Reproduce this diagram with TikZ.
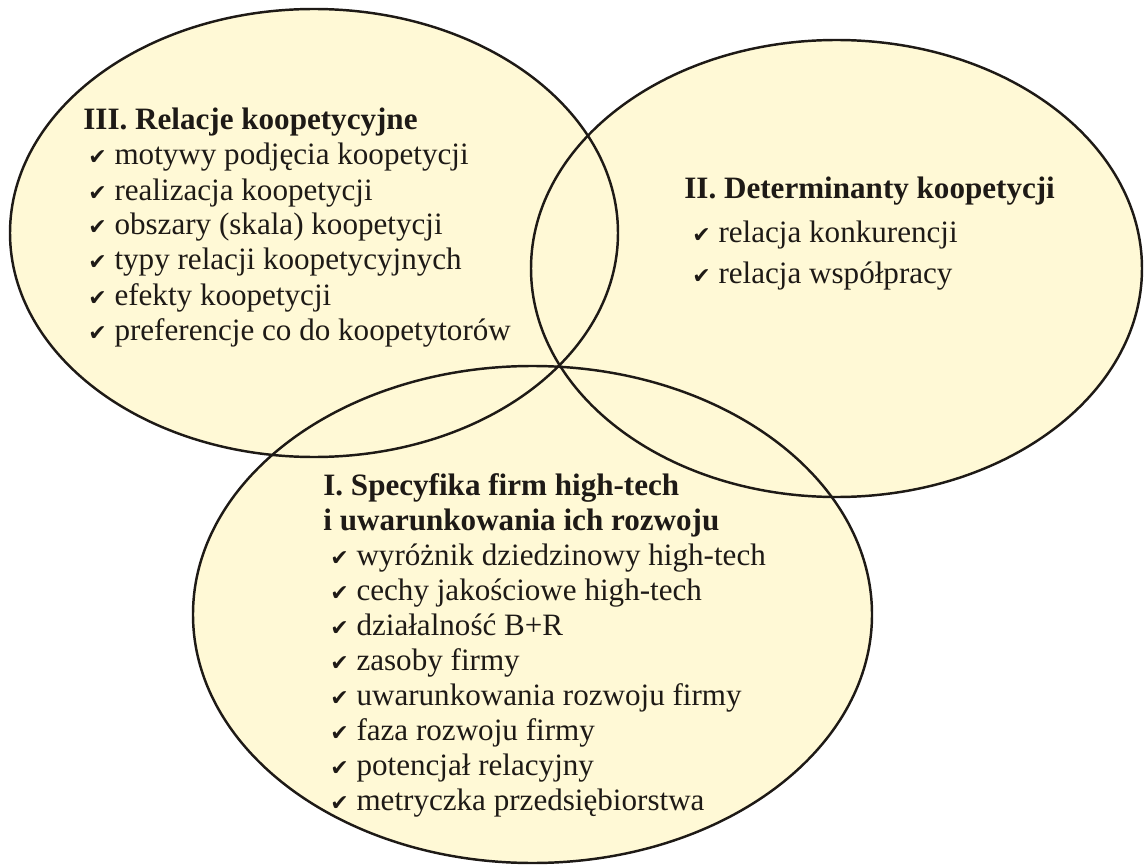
\documentclass[tikz,border=0pt]{standalone}
\usepackage{fontspec}
\setmainfont{Liberation Serif}
\newfontfamily\symfont{DejaVu Sans}
\usetikzlibrary{positioning}
\definecolor{vennCream}{HTML}{FFF9D6}
\definecolor{inkDark}{HTML}{1E1A16}
\newcommand{\chk}{{\symfont\fontsize{12.5}{10}\selectfont ✔}\hspace{0.25em}}

\begin{document}
\begin{tikzpicture}[
    x=0.02cm, y=-0.02cm,
    venn/.style={draw=inkDark, line width=1.4pt},
    head/.style={anchor=base west, inner sep=0pt, text=inkDark,
                 font=\fontsize{17.7}{20}\selectfont\bfseries},
    item/.style={anchor=base west, inner sep=0pt, text=inkDark,
                 font=\fontsize{17.7}{20}\selectfont},
]
    \useasboundingbox (0,0) rectangle (1147,865);
    % centres of the three sets
    \coordinate (cIII) at (314,233);
    \coordinate (cII) at (836.5,268.5);
    \coordinate (cI) at (532.5,614.5);
    % fills first, so every outline stays visible
    \fill[vennCream] (cIII) ellipse [x radius=304, y radius=224];
    \fill[vennCream] (cII) ellipse [x radius=305.5, y radius=228.5];
    \fill[vennCream] (cI) ellipse [x radius=339.5, y radius=248.5];
    \draw[venn] (cIII) ellipse [x radius=304, y radius=224];
    \draw[venn] (cII) ellipse [x radius=305.5, y radius=228.5];
    \draw[venn] (cI) ellipse [x radius=339.5, y radius=248.5];

    \node[head] (hIII) at (83,130) {III. Relacje koopetycyjne};
    \foreach \t [count=\i] in {motywy podjęcia koopetycji, realizacja koopetycji,
        obszary (skala) koopetycji, typy relacji koopetycyjnych,
        efekty koopetycji, preferencje co do koopetytorów}
        \node[item] (iIII-\i) at (88,{130+35*\i}) {\chk\t};

    \node[head] (hII) at (684,198) {II. Determinanty koopetycji};
    \foreach \t [count=\i] in {relacja konkurencji, relacja współpracy}
        \node[item] (iII-\i) at (692,{201+41*\i}) {\chk\t};

    \node[head] (hIa) at (323,495) {I. Specyfika firm high-tech};
    \node[head] (hIb) at (323,530) {i uwarunkowania ich rozwoju};
    \foreach \t [count=\i] in {wyróżnik dziedzinowy high-tech,
        cechy jakościowe high-tech, działalność B+R, zasoby firmy,
        uwarunkowania rozwoju firmy, faza rozwoju firmy,
        potencjał relacyjny, metryczka przedsiębiorstwa}
        \node[item] (iI-\i) at (330,{530+35*\i}) {\chk\t};
\end{tikzpicture}
\end{document}
